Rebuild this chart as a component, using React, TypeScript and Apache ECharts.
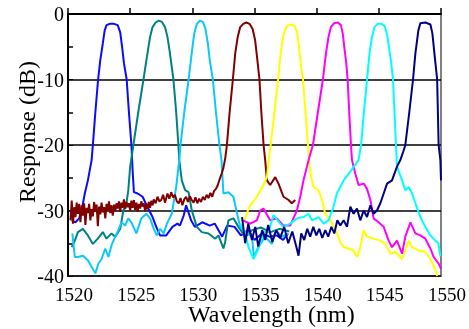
import React, { useEffect, useRef } from "react";
import * as echarts from "echarts";

// ---- Data (wavelength nm, response dB) ----
const blueWl = [1520.3,1520.6,1520.9,1521.1,1521.35,1521.6,1521.9,1522.0,1522.2,1522.42,1522.6,1522.8,1522.95,1523.1,1523.35,1523.7,1524.0,1524.2,1524.35,1524.5,1524.72,1524.9,1525.1,1525.2,1525.3,1525.6,1526.0,1526.4,1526.8,1527.1,1527.4,1527.9,1528.4,1528.8,1529.0,1529.3,1529.5,1529.9,1530.2,1530.8,1531.4,1531.8,1532.4,1532.8,1533.4,1533.9,1534.5,1535.0,1535.6,1536.2,1536.8,1537.3,1537.7];
const blueDb = [-31.5,-31.8,-31.2,-30.0,-27.4,-25.4,-22.3,-20,-15,-10,-7,-4.5,-2.5,-1.7,-1.5,-1.5,-1.7,-2.8,-5,-7.5,-10,-15,-20,-24,-27.2,-27.4,-27.9,-29.5,-31.0,-32.5,-33.8,-33.8,-32.5,-32.0,-32.3,-30.8,-29.2,-31.5,-32.5,-31.8,-32.3,-32.0,-34.0,-32.3,-32.5,-33.8,-33.0,-34.5,-33.5,-34.0,-33.8,-34.5,-33.5];

const tealWl = [1520.3,1520.55,1520.8,1521.2,1521.6,1522.0,1522.4,1522.8,1523.1,1523.5,1523.8,1524.2,1524.45,1524.7,1524.85,1525.0,1525.26,1525.65,1526.07,1526.35,1526.6,1526.8,1527.05,1527.3,1527.55,1527.8,1528.0,1528.2,1528.48,1528.7,1528.88,1528.95,1529.15,1529.42,1529.69,1529.96,1530.36,1530.76,1531.3,1531.84,1532.1,1532.5,1532.64,1532.9,1533.3,1533.71,1534.25,1534.8,1535.5,1536.3,1537.0,1537.8];
const tealDb = [-35.6,-34.6,-33.3,-32.8,-33.8,-35.1,-34.3,-33.3,-34.3,-33.5,-34.0,-32.8,-30.0,-28.9,-26.9,-23.3,-20,-15,-10,-6.5,-3.5,-2,-1.3,-1.0,-1.2,-2.0,-3.5,-6,-10,-15,-20,-22.3,-25.4,-26.9,-27.2,-30.0,-32.5,-33.3,-33.5,-34.3,-33.8,-35.8,-34.8,-31.5,-31.2,-32.5,-34.0,-33.0,-32.6,-33.3,-32.8,-33.2];

const skyWl = [1520.35,1520.55,1520.8,1521.2,1521.6,1521.9,1522.2,1522.45,1522.7,1523.0,1523.25,1523.5,1523.8,1524.05,1524.3,1524.6,1524.85,1525.1,1525.5,1525.9,1526.3,1526.6,1526.9,1527.15,1527.4,1527.7,1527.95,1528.35,1528.7,1528.95,1529.05,1529.35,1529.7,1529.95,1530.15,1530.35,1530.6,1530.85,1531.05,1531.25,1531.4,1531.65,1531.9,1532.18,1532.35,1532.5,1532.9,1533.3,1533.6,1533.85,1534.25,1534.8,1534.95,1535.3,1535.85,1536.4,1536.7,1537.2,1537.7];
const skyDb = [-33.5,-37.1,-37.1,-36.9,-37.6,-38.6,-39.6,-38.1,-37.4,-35.8,-37.1,-35.3,-34.0,-33.0,-31.8,-32.3,-31.2,-31.8,-33.5,-31.2,-30.5,-31.2,-32.8,-33.8,-32.8,-33.5,-32.0,-30.5,-26.4,-22.3,-20,-15,-10,-6,-3,-1.6,-1.0,-1.2,-2.2,-4.5,-7,-10,-15,-20,-22.3,-27.4,-27.2,-27.9,-30.5,-32.5,-33.3,-34.0,-37.1,-35.6,-34.0,-35.1,-33.0,-34.0,-33.5];

const maroonWl = [1520.2,1520.3,1520.4,1520.5,1520.6,1520.7,1520.8,1520.9,1521.0,1521.1,1521.2,1521.3,1521.4,1521.5,1521.6,1521.7,1521.8,1521.9,1522.0,1522.1,1522.2,1522.3,1522.4,1522.5,1522.6,1522.7,1522.8,1522.9,1523.0,1523.1,1523.2,1523.3,1523.4,1523.5,1523.6,1523.7,1523.8,1523.9,1524.0,1524.1,1524.2,1524.3,1524.4,1524.5,1524.6,1524.7,1524.8,1524.9,1525.0,1525.1,1525.2,1525.3,1525.4,1525.5,1525.6,1525.7,1525.8,1525.9,1526.0,1526.1,1526.2,1526.3,1526.4,1526.5,1526.6,1526.7,1526.8,1526.9,1527.05,1527.2,1527.35,1527.5,1527.65,1527.8,1528.0,1528.15,1528.3,1528.45,1528.6,1528.75,1528.9,1529.05,1529.2,1529.35,1529.5,1529.65,1529.8,1529.95,1530.1,1530.25,1530.4,1530.55,1530.7,1530.85,1531.0,1531.15,1531.3,1531.45,1531.6,1531.75,1531.9,1532.05,1532.2,1532.35,1532.5,1532.65,1532.78,1533.0,1533.26,1533.45,1533.65,1533.85,1534.1,1534.35,1534.6,1534.85,1535.05,1535.2,1535.4,1535.55,1535.73,1535.86,1536.0,1536.26,1536.67,1536.93,1537.33,1537.74,1538.0,1538.28];
const maroonDb = [-31.5,-28.5,-32.0,-29.5,-31.0,-28.8,-30.5,-29.0,-31.8,-29.2,-30.8,-28.9,-32.2,-29.6,-30.4,-29.0,-31.5,-29.8,-30.9,-28.7,-30.2,-29.1,-32.4,-29.4,-30.6,-28.8,-30.3,-29.5,-31.2,-29.0,-30.0,-28.6,-30.4,-29.2,-30.8,-29.1,-30.1,-28.9,-29.7,-28.6,-30.2,-28.8,-29.6,-28.3,-29.8,-28.7,-29.5,-28.9,-30.0,-28.5,-29.6,-28.4,-29.9,-28.8,-30.2,-29.0,-29.7,-28.6,-29.4,-28.9,-30.1,-29.0,-29.8,-28.7,-29.6,-28.5,-29.2,-28.3,-28.9,-27.9,-28.6,-28.4,-27.6,-28.8,-27.4,-28.2,-27.2,-28.0,-27.6,-28.6,-28.9,-28.1,-29.2,-28.3,-27.9,-28.7,-27.8,-28.4,-28.8,-28.0,-28.9,-28.2,-28.7,-27.9,-28.4,-27.6,-28.1,-27.3,-27.9,-27.0,-26.7,-26.1,-25.2,-24.4,-23.5,-22.0,-20,-15,-10,-6,-3.5,-2,-1.5,-1.3,-1.5,-2.3,-4,-6.5,-10,-15,-20,-22.3,-25.4,-26.1,-24.9,-25.9,-27.9,-28.4,-28.9,-28.4];

const yellowWl = [1534.2,1534.35,1534.52,1534.79,1535.19,1535.72,1536.0,1536.15,1536.3,1536.6,1536.9,1537.1,1537.3,1537.5,1537.7,1538.0,1538.25,1538.45,1538.6,1538.75,1538.9,1539.1,1539.3,1539.4,1539.5,1539.75,1540.15,1540.43,1540.69,1541.1,1541.35,1541.6,1541.9,1542.17,1542.57,1542.97,1543.24,1543.51,1543.78,1544.05,1544.58,1545.12,1545.52,1545.93,1546.33,1546.87,1547.13,1547.4,1547.67,1548.2,1548.74,1549.15,1549.55,1549.7];
const yellowDb = [-31.5,-30.7,-29.7,-28.9,-27.9,-26.1,-24.9,-22.3,-20,-15,-10,-6,-3.5,-2.2,-1.7,-1.6,-1.9,-3,-5.5,-8,-10,-15,-20,-22.3,-24.4,-26.4,-26.9,-28.4,-30.5,-31.5,-32.3,-33.3,-34.8,-35.6,-35.8,-36.1,-37.1,-35.6,-33.0,-34.0,-34.3,-34.6,-35.1,-36.6,-36.3,-37.4,-36.1,-34.6,-35.6,-36.1,-36.3,-37.4,-39.1,-40];

const magentaWl = [1534.09,1534.39,1534.65,1535.19,1535.46,1535.72,1536.26,1536.8,1537.33,1537.87,1538.41,1538.68,1538.94,1539.35,1539.7,1540.1,1540.5,1540.75,1540.95,1541.15,1541.4,1541.7,1541.95,1542.1,1542.25,1542.38,1542.49,1542.62,1542.76,1542.84,1543.11,1543.37,1543.78,1544.05,1544.32,1544.58,1544.98,1545.39,1545.79,1546.06,1546.46,1546.87,1547.13,1547.54,1547.94,1548.34,1548.74,1549.15,1549.41,1549.81,1550.0];
const magentaDb = [-31.5,-31.8,-32.0,-31.5,-30.0,-29.7,-31.5,-31.2,-32.3,-32.3,-30.0,-27.9,-25.4,-22.3,-20,-15,-10,-6,-3.5,-2,-1.4,-1.3,-1.7,-3,-5.5,-7.5,-10,-15,-20,-22.3,-24.4,-26.1,-25.9,-26.7,-28.4,-31.2,-31.8,-32.5,-34.6,-35.6,-34.6,-36.6,-34.0,-31.8,-33.5,-33.8,-34.3,-35.8,-37.1,-38.1,-38.9];

const aquaWl = [1533.85,1534.25,1534.52,1534.92,1535.32,1535.72,1536.13,1536.53,1537.07,1537.33,1537.87,1538.41,1538.94,1539.35,1539.62,1540.15,1540.56,1540.96,1541.36,1541.63,1542.17,1542.57,1543.11,1543.37,1543.57,1543.8,1544.05,1544.25,1544.45,1544.65,1544.9,1545.2,1545.45,1545.65,1545.85,1546.0,1546.14,1546.26,1546.38,1546.46,1546.87,1547.13,1547.4,1547.67,1547.94,1548.34,1548.74,1549.15,1549.55,1549.79,1549.95];
const aquaDb = [-32.0,-33.5,-35.6,-37.4,-35.8,-33.3,-33.3,-30.7,-32.0,-32.5,-32.0,-31.2,-31.0,-30.5,-31.5,-31.0,-32.0,-31.5,-29.4,-27.4,-25.4,-24.4,-23.0,-22.3,-20,-15,-10,-6,-3.5,-2,-1.5,-1.5,-1.8,-3,-5.5,-7.5,-10,-15,-20,-23.3,-25.4,-26.9,-26.4,-27.4,-28.9,-31.0,-32.5,-33.8,-34.6,-35.0,-37.0];

const navyWl = [1534.0,1534.25,1534.5,1534.79,1535.06,1535.3,1535.62,1535.86,1536.1,1536.43,1536.75,1537.07,1537.39,1537.71,1538.04,1538.36,1538.54,1538.76,1539.0,1539.24,1539.48,1539.73,1539.97,1540.21,1540.45,1540.69,1540.93,1541.18,1541.42,1541.66,1541.9,1542.17,1542.44,1542.71,1542.97,1543.24,1543.51,1543.78,1544.05,1544.32,1544.58,1544.85,1545.12,1545.39,1545.66,1546.06,1546.46,1546.73,1547.0,1547.13,1547.45,1547.75,1547.94,1548.18,1548.34,1548.74,1549.15,1549.31,1549.47,1549.69,1549.81,1549.95,1550.0];
const navyDb = [-31.0,-35.0,-32.0,-34.5,-32.5,-35.5,-33.0,-34.5,-32.2,-34.8,-33.0,-34.2,-32.5,-35.0,-33.2,-35.5,-36.9,-33.5,-34.5,-32.8,-34.0,-32.5,-33.8,-32.8,-34.2,-33.0,-34.0,-32.5,-33.5,-31.5,-32.3,-31.5,-32.5,-29.4,-30.5,-29.7,-31.5,-30.0,-31.0,-29.2,-30.5,-30.0,-28.9,-27.4,-25.9,-25.4,-23.3,-22.3,-20.8,-20,-15,-10,-6,-2.5,-1.4,-1.3,-1.6,-3,-6,-10,-20,-22.3,-25.4];

const yTicks = [-40, -30, -20, -10, 0];
const xTicks = [1520, 1525, 1530, 1535, 1540, 1545, 1550];

const seriesDefs = [
  { wl: blueWl, db: blueDb, color: "#0a0aff" },
  { wl: tealWl, db: tealDb, color: "#008080" },
  { wl: skyWl, db: skyDb, color: "#0cc8f8" },
  { wl: maroonWl, db: maroonDb, color: "#800000" },
  { wl: yellowWl, db: yellowDb, color: "#ffff00" },
  { wl: magentaWl, db: magentaDb, color: "#ff00ff" },
  { wl: aquaWl, db: aquaDb, color: "#00ffff" },
  { wl: navyWl, db: navyDb, color: "#000080" },
];

const FONT = "Times New Roman";

export default function App() {
  const ref = useRef<HTMLDivElement>(null);
  useEffect(() => {
    if (!ref.current) return;
    const chart = echarts.init(ref.current, undefined, { renderer: "svg" });
    chart.setOption({
      animation: false,
      grid: {
        left: 68,
        top: 14,
        right: 28,
        bottom: 53,
        show: true,
        borderColor: "#808080",
        borderWidth: 2,
        backgroundColor: "transparent",
      },
      xAxis: {
        type: "value",
        min: xTicks[0],
        max: xTicks[xTicks.length - 1],
        interval: 5,
        axisLine: { show: true, lineStyle: { color: "#000", width: 2 } },
        axisTick: { show: true, inside: true, length: 6, lineStyle: { color: "#000", width: 1.5 } },
        axisLabel: {
          color: "#000",
          fontSize: 19,
          fontFamily: FONT,
          margin: 9,
          padding: [0, 0, 0, 12],
          formatter: (v: number) => String(v),
        },
        splitLine: { show: false },
      },
      yAxis: {
        type: "value",
        min: yTicks[0],
        max: yTicks[yTicks.length - 1],
        interval: 10,
        axisLine: { show: true, lineStyle: { color: "#000", width: 2 } },
        axisTick: { show: true, inside: true, length: 5 },
        minorTick: { show: true, splitNumber: 2, length: 5, lineStyle: { color: "#000", width: 1.5 } },
        axisLabel: {
          color: "#000",
          fontSize: 20,
          fontFamily: FONT,
          margin: 4,
        },
        splitLine: {
          show: true,
          lineStyle: { color: ["#000", "#000", "#000", "#000", "#808080"], width: 1.5 },
        },
      },
      graphic: [
        {
          type: "text",
          x: 188,
          y: 302,
          style: { text: "Wavelength (nm)", fontSize: 24, fontFamily: FONT, fill: "#000" },
        },
        {
          type: "text",
          x: 15,
          y: 203,
          rotation: Math.PI / 2,
          style: { text: "Response (dB)", fontSize: 24, fontFamily: FONT, fill: "#000" },
        },
      ],
      series: seriesDefs.map((s) => ({
        type: "line",
        showSymbol: false,
        data: s.wl.map((w, i) => [w, s.db[i]]),
        lineStyle: { color: s.color, width: 2 },
        itemStyle: { color: s.color },
      })),
    });
    return () => chart.dispose();
  }, []);
  return <div ref={ref} style={{ position: "fixed", left: 0, top: 0, width: 469, height: 329 }} />;
}
